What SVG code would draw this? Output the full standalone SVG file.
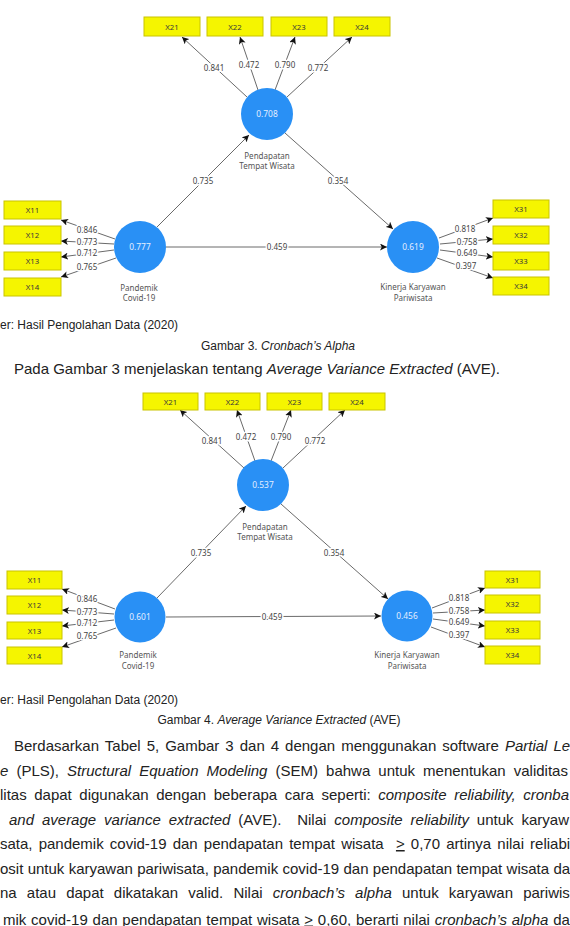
<svg xmlns="http://www.w3.org/2000/svg" width="570" height="926" viewBox="0 0 570 926">
<style>
.ind{fill:#f5f500;stroke:#c9c400;stroke-width:1}
.lv{fill:#2990f5}
.it{font-family:"Noto Sans","Open Sans",sans-serif;font-size:7.8px;fill:#3a3a3a;text-anchor:middle}
.lt{font-family:"Noto Sans","Open Sans",sans-serif;font-size:8.4px;fill:#e4eeff;text-anchor:middle}
.nl{font-family:"Noto Sans","Open Sans",sans-serif;font-size:8px;fill:#555;text-anchor:middle}
.cl{fill:none;stroke:#6a6a6a;stroke-width:1;marker-end:url(#ah)}
.cw{font-family:"Noto Sans","Open Sans",sans-serif;font-size:8px;fill:#444;text-anchor:middle;paint-order:stroke;stroke:#fff;stroke-width:3px;stroke-linejoin:round}
.doc{font-family:"Liberation Sans",Arial,sans-serif;fill:#222}
.cap{font-size:12px}
.body{font-size:15px}
.i{font-style:italic}
</style>
<defs>
<marker id="ah" viewBox="0 0 8 8" refX="8" refY="4" markerWidth="7" markerHeight="7" orient="auto" markerUnits="userSpaceOnUse">
<path d="M0,0 L8,4 L0,8 L2,4 z" fill="#111"/>
</marker>
</defs>
<rect width="570" height="926" fill="#fff"/>

<!-- ============ Diagram 1 ============ -->
<g id="d1-connectors">
<line class="cl" x1="247" y1="97" x2="182" y2="37"/>
<line class="cl" x1="258" y1="90" x2="240" y2="37"/>
<line class="cl" x1="275" y1="90" x2="295" y2="37"/>
<line class="cl" x1="287" y1="97" x2="352" y2="37"/>
<line class="cl" x1="157" y1="227" x2="249" y2="135"/>
<line class="cl" x1="285" y1="133" x2="393" y2="229"/>
<line class="cl" x1="166" y1="247" x2="387" y2="247"/>
<line class="cl" x1="115" y1="239" x2="61" y2="220"/>
<line class="cl" x1="114" y1="244" x2="61" y2="241"/>
<line class="cl" x1="114" y1="250" x2="61" y2="257"/>
<line class="cl" x1="116" y1="258" x2="61" y2="277"/>
<line class="cl" x1="439" y1="238" x2="493" y2="218"/>
<line class="cl" x1="440" y1="244" x2="493" y2="239"/>
<line class="cl" x1="440" y1="250" x2="493" y2="257"/>
<line class="cl" x1="437" y1="258" x2="493" y2="278"/>
<text class="cw" x="214" y="71">0.841</text>
<text class="cw" x="249" y="68">0.472</text>
<text class="cw" x="285" y="68">0.790</text>
<text class="cw" x="318" y="71">0.772</text>
<text class="cw" x="203" y="184">0.735</text>
<text class="cw" x="338" y="184">0.354</text>
<text class="cw" x="277" y="250">0.459</text>
<text class="cw" x="87" y="233">0.846</text>
<text class="cw" x="87" y="245">0.773</text>
<text class="cw" x="87" y="256">0.712</text>
<text class="cw" x="87" y="270">0.765</text>
<text class="cw" x="465" y="232">0.818</text>
<text class="cw" x="467" y="245">0.758</text>
<text class="cw" x="467" y="256">0.649</text>
<text class="cw" x="466" y="269">0.397</text>
</g>
<g id="d1-x21"><rect class="ind" x="144" y="17" width="56" height="19"/><text class="it" x="172" y="29.5">X21</text></g>
<g id="d1-x22"><rect class="ind" x="207" y="17" width="56" height="19"/><text class="it" x="235" y="29.5">X22</text></g>
<g id="d1-x23"><rect class="ind" x="271" y="17" width="56" height="19"/><text class="it" x="299" y="29.5">X23</text></g>
<g id="d1-x24"><rect class="ind" x="334" y="17" width="56" height="19"/><text class="it" x="362" y="29.5">X24</text></g>
<g id="d1-pendapatan"><circle class="lv" cx="267" cy="114" r="26"/><text class="lt" x="267" y="117">0.708</text><text class="nl" x="267" y="159">Pendapatan</text><text class="nl" x="267" y="169">Tempat Wisata</text></g>
<g id="d1-x11"><rect class="ind" x="4" y="201" width="57" height="18"/><text class="it" x="32.5" y="213">X11</text></g>
<g id="d1-x12"><rect class="ind" x="4" y="226" width="57" height="18"/><text class="it" x="32.5" y="238">X12</text></g>
<g id="d1-x13"><rect class="ind" x="4" y="252" width="57" height="18"/><text class="it" x="32.5" y="264">X13</text></g>
<g id="d1-x14"><rect class="ind" x="4" y="278" width="57" height="18"/><text class="it" x="32.5" y="290">X14</text></g>
<g id="d1-pandemik"><circle class="lv" cx="140" cy="247" r="26"/><text class="lt" x="140" y="250">0.777</text><text class="nl" x="139" y="291">Pandemik</text><text class="nl" x="139" y="301">Covid-19</text></g>
<g id="d1-x31"><rect class="ind" x="493" y="200" width="56" height="18"/><text class="it" x="521" y="212">X31</text></g>
<g id="d1-x32"><rect class="ind" x="493" y="226" width="56" height="18"/><text class="it" x="521" y="238">X32</text></g>
<g id="d1-x33"><rect class="ind" x="493" y="252" width="56" height="18"/><text class="it" x="521" y="264">X33</text></g>
<g id="d1-x34"><rect class="ind" x="493" y="277" width="56" height="18"/><text class="it" x="521" y="289">X34</text></g>
<g id="d1-kinerja"><circle class="lv" cx="413" cy="247" r="26"/><text class="lt" x="413" y="250">0.619</text><text class="nl" x="413" y="290">Kinerja Karyawan</text><text class="nl" x="413" y="301">Pariwisata</text></g>

<text class="doc cap" x="0" y="329">er: Hasil Pengolahan Data (2020)</text>
<text class="doc cap" x="278" y="350" text-anchor="middle">Gambar 3. <tspan class="i">Cronbach’s Alpha</tspan></text>
<text class="doc body" x="14" y="374">Pada Gambar 3 menjelaskan tentang <tspan class="i">Average Variance Extracted</tspan> (AVE).</text>

<!-- ============ Diagram 2 ============ -->
<g id="d2-connectors">
<line class="cl" x1="244" y1="468" x2="180" y2="410"/>
<line class="cl" x1="255" y1="461" x2="237" y2="410"/>
<line class="cl" x1="271" y1="461" x2="291" y2="410"/>
<line class="cl" x1="283" y1="468" x2="345" y2="410"/>
<line class="cl" x1="157" y1="598" x2="246" y2="506"/>
<line class="cl" x1="281" y1="504" x2="388" y2="599"/>
<line class="cl" x1="166" y1="617" x2="381" y2="616"/>
<line class="cl" x1="115" y1="609" x2="62" y2="589"/>
<line class="cl" x1="114" y1="614" x2="62" y2="610"/>
<line class="cl" x1="114" y1="620" x2="62" y2="626"/>
<line class="cl" x1="116" y1="628" x2="62" y2="647"/>
<line class="cl" x1="432" y1="608" x2="485" y2="588"/>
<line class="cl" x1="433" y1="613" x2="485" y2="610"/>
<line class="cl" x1="433" y1="619" x2="485" y2="626"/>
<line class="cl" x1="431" y1="627" x2="485" y2="647"/>
<text class="cw" x="212" y="444">0.841</text>
<text class="cw" x="246" y="440">0.472</text>
<text class="cw" x="281" y="440">0.790</text>
<text class="cw" x="315" y="444">0.772</text>
<text class="cw" x="201" y="556">0.735</text>
<text class="cw" x="334" y="556">0.354</text>
<text class="cw" x="272" y="620">0.459</text>
<text class="cw" x="87" y="602">0.846</text>
<text class="cw" x="87" y="615">0.773</text>
<text class="cw" x="87" y="626">0.712</text>
<text class="cw" x="87" y="639">0.765</text>
<text class="cw" x="459" y="601">0.818</text>
<text class="cw" x="459" y="614">0.758</text>
<text class="cw" x="459" y="625">0.649</text>
<text class="cw" x="459" y="638">0.397</text>
</g>
<g id="d2-x21"><rect class="ind" x="143" y="393" width="55" height="17"/><text class="it" x="170.5" y="404.5">X21</text></g>
<g id="d2-x22"><rect class="ind" x="205" y="393" width="55" height="17"/><text class="it" x="232.5" y="404.5">X22</text></g>
<g id="d2-x23"><rect class="ind" x="267" y="393" width="55" height="17"/><text class="it" x="294.5" y="404.5">X23</text></g>
<g id="d2-x24"><rect class="ind" x="329" y="393" width="56" height="17"/><text class="it" x="357" y="404.5">X24</text></g>
<g id="d2-pendapatan"><circle class="lv" cx="263" cy="485" r="26"/><text class="lt" x="263" y="488">0.537</text><text class="nl" x="265" y="530">Pendapatan</text><text class="nl" x="265" y="540">Tempat Wisata</text></g>
<g id="d2-x11"><rect class="ind" x="7" y="571" width="55" height="18"/><text class="it" x="34.5" y="583">X11</text></g>
<g id="d2-x12"><rect class="ind" x="7" y="596" width="55" height="18"/><text class="it" x="34.5" y="608">X12</text></g>
<g id="d2-x13"><rect class="ind" x="7" y="622" width="55" height="17"/><text class="it" x="34.5" y="633.5">X13</text></g>
<g id="d2-x14"><rect class="ind" x="7" y="647" width="55" height="17"/><text class="it" x="34.5" y="658.5">X14</text></g>
<g id="d2-pandemik"><circle class="lv" cx="140" cy="617" r="25.5"/><text class="lt" x="140" y="620">0.601</text><text class="nl" x="138" y="658">Pandemik</text><text class="nl" x="138" y="669">Covid-19</text></g>
<g id="d2-x31"><rect class="ind" x="485" y="571" width="55" height="17"/><text class="it" x="512.5" y="582.5">X31</text></g>
<g id="d2-x32"><rect class="ind" x="485" y="595" width="55" height="18"/><text class="it" x="512.5" y="607">X32</text></g>
<g id="d2-x33"><rect class="ind" x="485" y="621" width="55" height="18"/><text class="it" x="512.5" y="633">X33</text></g>
<g id="d2-x34"><rect class="ind" x="485" y="646" width="55" height="18"/><text class="it" x="512.5" y="658">X34</text></g>
<g id="d2-kinerja"><circle class="lv" cx="407" cy="616" r="25.5"/><text class="lt" x="407" y="619">0.456</text><text class="nl" x="407" y="658">Kinerja Karyawan</text><text class="nl" x="407" y="669">Pariwisata</text></g>

<text class="doc cap" x="0" y="704">er: Hasil Pengolahan Data (2020)</text>
<text class="doc cap" x="279" y="724" text-anchor="middle">Gambar 4. <tspan class="i">Average Variance Extracted</tspan> (AVE)</text>

<g class="doc body">
<text x="14" y="751" word-spacing="1.84">Berdasarkan Tabel 5, Gambar 3 dan 4 dengan menggunakan software <tspan class="i">Partial Le</tspan></text>
<text x="0" y="775.5" word-spacing="3.9"><tspan class="i">e</tspan> (PLS), <tspan class="i">Structural Equation Modeling</tspan> (SEM) bahwa untuk menentukan validitas</text>
<text x="0" y="800" word-spacing="3.4">litas dapat digunakan dengan beberapa cara seperti: <tspan class="i">composite reliability, cronba</tspan></text>
<text x="9" y="824.5" word-spacing="3.75"><tspan class="i">and average variance extracted</tspan> (AVE).&#160; Nilai <tspan class="i">composite reliability</tspan> untuk karyaw</text>
<text x="0" y="849" word-spacing="1.96">sata, pandemik covid-19 dan pendapatan tempat wisata&#160; <tspan text-decoration="underline">&gt;</tspan> 0,70 artinya nilai reliabi</text>
<text x="0" y="873.5" word-spacing="0.14">osit untuk karyawan pariwisata, pandemik covid-19 dan pendapatan tempat wisata da</text>
<text x="0" y="898" word-spacing="5.98">na atau dapat dikatakan valid. Nilai <tspan class="i">cronbach’s alpha</tspan> untuk karyawan pariwis</text>
<text x="3" y="924.5" word-spacing="0.6">mik covid-19 dan pendapatan tempat wisata <tspan text-decoration="underline">&gt;</tspan> 0,60, berarti nilai <tspan class="i">cronbach’s alpha</tspan> da</text>
</g>
</svg>
